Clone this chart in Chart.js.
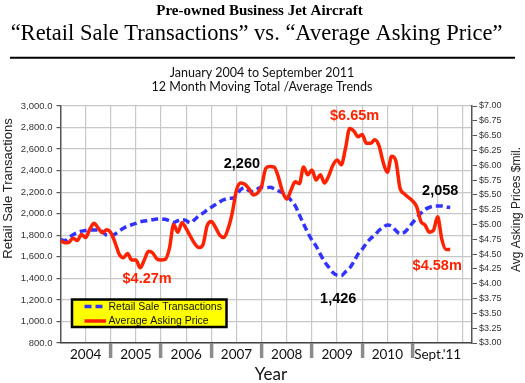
<!DOCTYPE html>
<html><head><meta charset="utf-8">
<script src="https://cdn.jsdelivr.net/npm/chart.js@4"></script>
<style>html,body{margin:0;padding:0;background:#fff}#wrap{width:525px;height:383px}</style>
</head><body><div id="wrap"><canvas id="c" width="525" height="383"></canvas></div>
<script>
// Month index (0 = Jan 2004)
const retailSales = [
 1760,1750,1780,1805,1825,1838,1845,1849,1850,1848,
 1835,1800,1795,1810,1840,1865,1885,1898,1910,1925,
 1932,1940,1945,1950,1952,1948,1935,1918,1935,1945,
 1935,1915,1945,1980,2005,2035,2060,2085,2110,2130,
 2143,2143,2175,2225,2240,2215,2205,2230,2245,2240,
 2245,2232,2212,2195,2170,2125,2075,1990,1905,1825,
 1755,1700,1625,1555,1505,1455,1430,1426,1460,1495,
 1554,1625,1670,1725,1770,1802,1845,1875,1895,1885,
 1845,1815,1825,1864,1915,1960,2004,2040,2058,2070,
 2071,2071,2062,2058
];
const askingPrice = [
 4.73,4.69,4.70,4.77,4.73,4.83,4.78,4.92,5.02,4.94,
 4.86,4.91,4.86,4.70,4.50,4.44,4.51,4.40,4.40,4.27,
 4.40,4.55,4.52,4.42,4.40,4.41,4.60,5.00,4.87,5.03,
 4.93,4.80,4.68,4.61,4.66,4.98,5.05,4.95,4.82,4.78,
 4.93,5.20,5.58,5.70,5.68,5.60,5.50,5.53,5.65,5.95,
 5.98,5.97,5.80,5.55,5.43,5.58,5.72,5.69,5.97,5.84,
 5.92,5.75,5.84,5.70,5.82,6.00,6.09,6.01,6.28,6.62,
 6.58,6.48,6.52,6.37,6.37,6.43,6.33,6.05,5.88,6.15,
 6.08,5.62,5.52,5.46,5.40,5.30,5.05,4.99,4.87,4.90,
 5.13,4.75,4.58,4.58
];
const monthIndex = retailSales.map((_, i) => i);
const yearLabels = ['2004','2005','2006','2007','2008','2009','2010',"Sept.'11"];

const headerPlugin = {
  id: 'header',
  afterDraw(chart) {
    const c = chart.ctx, a = chart.chartArea;
    c.save();
    c.fillStyle = '#000';
    c.textAlign = 'center'; c.textBaseline = 'middle';
    c.font = 'bold 15px "Liberation Serif"';
    c.fillText('Pre-owned Business Jet Aircraft', 259.5, 11.5);
    c.font = '22.5px "Liberation Serif"';
    c.fillText('\u201cRetail Sale Transactions\u201d vs. \u201cAverage Asking Price\u201d', 256.5, 34);
    c.strokeStyle = '#000'; c.lineWidth = 2;
    c.beginPath(); c.moveTo(10, 57.7); c.lineTo(515, 57.7); c.stroke();
    c.fillStyle = '#111';
    c.font = '12.5px Lato';
    c.fillText('January 2004 to September 2011', 262, 72.7);
    c.fillText('12 Month Moving Total /Average Trends', 262, 87.3);
    // axis titles
    c.fillStyle = '#222';
    c.font = '13px "Liberation Sans"';
    c.save(); c.translate(8, (a.top + a.bottom) / 2 - 36); c.rotate(-Math.PI / 2);
    c.fillText('Retail Sale Transactions', 0, 0); c.restore();
    c.font = '12px "Liberation Sans"';
    c.save(); c.translate(517, (a.top + a.bottom) / 2 - 15); c.rotate(-Math.PI / 2);
    c.fillText('Avg Asking Prices $mil.', 0, 0); c.restore();
    c.fillStyle = '#111';
    c.font = '17px Lato';
    c.fillText('Year', 271, 375);
    // callouts anchored on data points
    const callouts = [
      {t: '$4.27m', ds: 1, i: 19, dx: 7, dy: 11, col: '#ff2200'},
      {t: '2,260', ds: 0, i: 44, dx: -3, dy: -24, col: '#000'},
      {t: '$6.65m', ds: 1, i: 69, dx: 5, dy: -13, col: '#ff2200'},
      {t: '2,058', ds: 0, i: 93, dx: -10, dy: -16, col: '#000'},
      {t: '$4.58m', ds: 1, i: 93, dx: -13, dy: 17, col: '#ff2200'},
      {t: '1,426', ds: 0, i: 67, dx: -3, dy: 23, col: '#000'}
    ];
    c.font = 'bold 14.5px "Liberation Sans"';
    callouts.forEach(o => {
      const p = chart.getDatasetMeta(o.ds).data[o.i];
      c.fillStyle = o.col;
      c.fillText(o.t, p.x + o.dx, p.y + o.dy);
    });
    // legend box
    const lx = a.left + 11.5, ly = a.bottom - 43.5, lw = 154.5, lh = 27.5;
    c.fillStyle = '#ffff00';
    c.fillRect(lx, ly, lw, lh);
    c.strokeStyle = '#000'; c.lineWidth = 2.5;
    c.strokeRect(lx, ly, lw, lh);
    c.textAlign = 'left';
    c.font = '10.5px "Liberation Sans"';
    chart.data.datasets.forEach((d, k) => {
      const yy = ly + 7 + k * 14.5;
      c.save();
      c.strokeStyle = d.borderColor; c.lineWidth = 3.5;
      c.setLineDash(d.borderDash || []);
      c.beginPath(); c.moveTo(lx + 12.5, yy); c.lineTo(lx + 34, yy); c.stroke();
      c.restore();
      c.fillStyle = '#111';
      c.fillText(d.label, lx + 36.5, yy + 0.5);
    });
    c.restore();
  }
};

new Chart(document.getElementById('c'), {
  type: 'line',
  data: {
    labels: monthIndex,
    datasets: [
      {label: 'Retail Sale Transactions', data: retailSales, yAxisID: 'y',
       borderColor: '#3333ff', borderWidth: 3.5, borderDash: [7, 4],
       pointRadius: 0, cubicInterpolationMode: 'monotone', fill: false, order: 1},
      {label: 'Average Asking Price', data: askingPrice, yAxisID: 'y1',
       borderColor: '#ff2200', borderWidth: 3.5,
       pointRadius: 0, cubicInterpolationMode: 'monotone', fill: false, order: 0}
    ]
  },
  options: {
    responsive: false, animation: false, devicePixelRatio: 1,
    layout: {padding: {top: 106, left: 0, right: 0, bottom: 0}},
    plugins: {legend: {display: false}, tooltip: {enabled: false}, title: {display: false}},
    scales: {
      x: {
        type: 'linear', min: 0, max: 98.2,
        grid: {
          color: ctx => (ctx.tick && ctx.tick.value > 0) ? '#c8c8c8' : 'rgba(0,0,0,0)',
          lineWidth: 1.2, tickLength: 15,
          tickColor: ctx => { const v = ctx.tick ? ctx.tick.value : 0; return (v % 12 === 0 && v > 0 && v < 96) ? '#8c8c8c' : 'rgba(0,0,0,0)'; },
          tickWidth: ctx => { const v = ctx.tick ? ctx.tick.value : 0; return (v % 12 === 0 && v > 0 && v < 96) ? 3.5 : 0; }
        },
        border: {display: true, color: '#444', width: 1.5},
        ticks: {
          stepSize: 6, autoSkip: false, maxRotation: 0, includeBounds: false, padding: -11,
          font: {family: 'Lato', size: 13.5}, color: '#111',
          callback: v => (v % 12 === 6) ? yearLabels[(v - 6) / 12] : ''
        },
        afterFit: s => { s.height = 40; }
      },
      y: {
        position: 'left', min: 800, max: 3000,
        ticks: {stepSize: 200, padding: 4, color: '#333', font: {family: 'Liberation Sans', size: 9.5},
          callback: v => v.toLocaleString('en-US', {minimumFractionDigits: 1, maximumFractionDigits: 1})},
        grid: {color: '#c8c8c8', lineWidth: 1.2, tickLength: 4, tickColor: '#555'},
        border: {color: '#555', width: 1.5},
        afterFit: s => { s.width = 60.5; }
      },
      y1: {
        position: 'right', min: 3, max: 7,
        ticks: {stepSize: 0.25, padding: 2, color: '#333', font: {family: 'Liberation Sans', size: 9},
          callback: v => '$' + v.toFixed(2)},
        grid: {drawOnChartArea: false, tickLength: 5, tickColor: '#555'},
        border: {color: '#555', width: 1.5},
        afterFit: s => { s.width = 53; }
      }
    }
  },
  plugins: [headerPlugin]
});
</script>
</body></html>
